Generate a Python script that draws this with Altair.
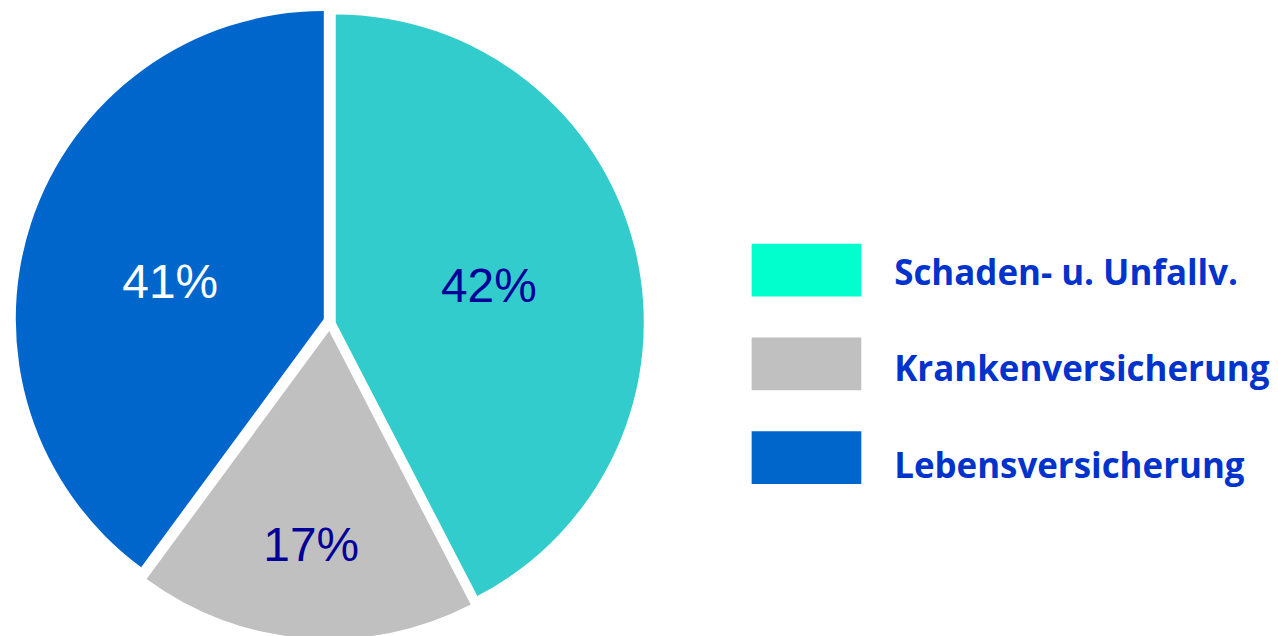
import math
import altair as alt
import pandas as pd

# ---- data -----------------------------------------------------------------
categories = ["Schaden- u. Unfallv.", "Krankenversicherung", "Lebensversicherung"]
shares = [42.4, 17.7, 39.9]          # slice sizes as drawn in the picture
labels = ["42%", "17%", "41%"]       # data labels as printed
pie_colors = ["#33CCCC", "#C0C0C0", "#0066CC"]
legend_colors = ["#00FFCC", "#C0C0C0", "#0066CC"]
label_colors = ["#000099", "#000099", "#FFFFFF"]

df = pd.DataFrame({
    "order": list(range(len(categories))),
    "category": categories,
    "share": shares,
    "label": labels,
    "pie_color": pie_colors,
    "legend_color": legend_colors,
    "label_color": label_colors,
})

# ---- pie ------------------------------------------------------------------
PIE_W, PIE_H = 646, 624
CX, CY = 323, 313      # centre of the pie inside its view
R = 309
# explosion offset of each slice, and label radius / nudge
explode = [(5.8, 1.4), (-0.8, 10.0), (-6.2, -1.9)]
label_pos = [(157, 1, 3), (217, -1, 0), (159, -3, 14)]

theta_scale = alt.Scale(domain=[0, 100], range=[0, 2 * math.pi])

base = alt.Chart(df).transform_window(
    cum="sum(share)", sort=[alt.SortField("order")], frame=[None, 0]
).transform_calculate(
    start="datum.cum - datum.share",
    mid="datum.cum - datum.share / 2",
)

layers = []
for i, cat in enumerate(categories):
    ex, ey = explode[i]
    sl = base.transform_filter(alt.datum.category == cat)
    arc = sl.mark_arc(radius=R, strokeWidth=0).encode(
        theta=alt.Theta("start:Q", scale=theta_scale),
        theta2=alt.Theta2("cum:Q"),
        fill=alt.Fill("pie_color:N", scale=None),
        x=alt.value(CX + ex),
        y=alt.value(CY + ey),
    )
    layers.append(arc)
for i, cat in enumerate(categories):
    ex, ey = explode[i]
    r, tdx, tdy = label_pos[i]
    sl = base.transform_filter(alt.datum.category == cat)
    txt = sl.mark_text(
        radius=r, dx=tdx, dy=tdy, font="Liberation Sans", fontSize=48,
        align="center", baseline="middle",
    ).encode(
        theta=alt.Theta("mid:Q", scale=theta_scale),
        text="label:N",
        color=alt.Color("label_color:N", scale=None),
        x=alt.value(CX + ex),
        y=alt.value(CY + ey),
    )
    layers.append(txt)

pie = alt.layer(*layers).properties(width=PIE_W, height=PIE_H)

# ---- legend ---------------------------------------------------------------
swatches = alt.Chart(df).mark_point(
    shape="M-1,-0.48H1V0.48H-1Z", size=12100, filled=True, opacity=1, strokeWidth=0,
).encode(
    y=alt.Y("category:N", sort=categories, axis=None,
            scale=alt.Scale(type="point", range=[262, 450], padding=0)),
    x=alt.value(155),
    fill=alt.Fill("legend_color:N", scale=None),
)
leg_text = alt.Chart(df).mark_text(
    font="Open Sans", fontWeight="bold", fontSize=35, color="#0033CC",
    align="left", baseline="middle",
).encode(
    y=alt.Y("category:N", sort=categories, axis=None,
            scale=alt.Scale(type="point", range=[266, 459], padding=0)),
    x=alt.value(243),
    text="category:N",
)
legend = alt.layer(swatches, leg_text).resolve_scale(y="independent").properties(
    width=616, height=PIE_H
)

chart = alt.hconcat(pie, legend, spacing=0).properties(padding=0).configure_view(
    stroke=None
).resolve_scale(y="independent")

chart.save("out.html", embed_options={"renderer": "svg", "actions": False})
